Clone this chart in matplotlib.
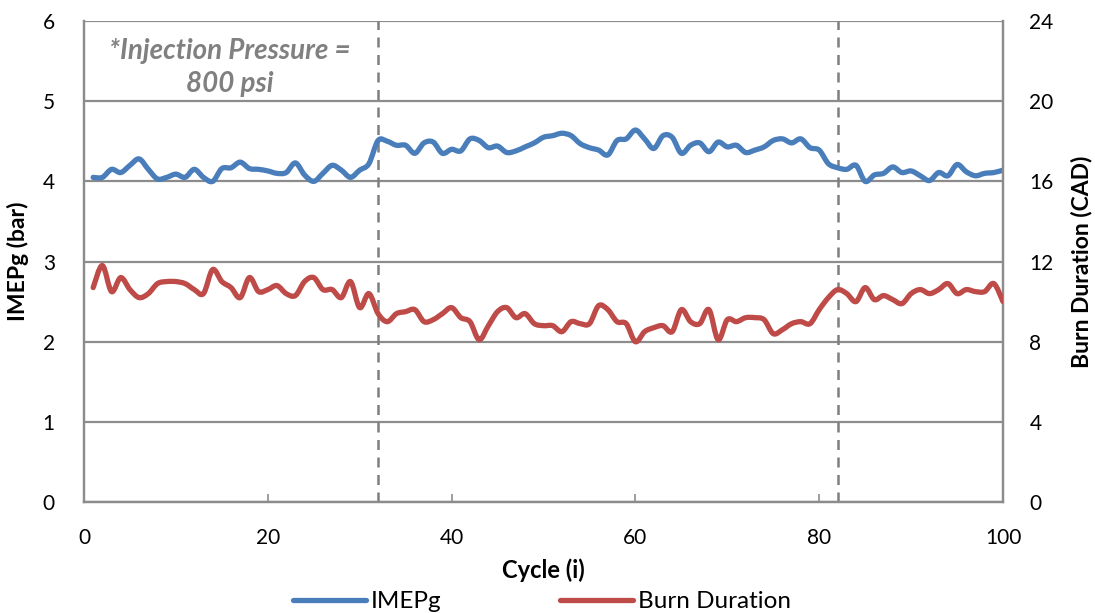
import matplotlib
matplotlib.use("Agg")
import matplotlib.pyplot as plt
from matplotlib.lines import Line2D
from matplotlib.path import Path
from matplotlib.patches import PathPatch

plt.rcParams['font.family'] = ['Lato', 'DejaVu Sans']

cycles = list(range(1, 101))

imepg = [
    4.05, 4.05, 4.15, 4.11, 4.20, 4.28, 4.15, 4.03, 4.05, 4.09,
    4.05, 4.15, 4.05, 4.00, 4.16, 4.17, 4.24, 4.16, 4.15, 4.13,
    4.10, 4.11, 4.23, 4.08, 4.00, 4.10, 4.20, 4.14, 4.05, 4.14,
    4.22, 4.51, 4.50, 4.45, 4.45, 4.35, 4.48, 4.49, 4.35, 4.40,
    4.38, 4.53, 4.51, 4.42, 4.44, 4.36, 4.38, 4.43, 4.48, 4.55,
    4.57, 4.60, 4.57, 4.47, 4.42, 4.39, 4.33, 4.51, 4.53, 4.64,
    4.53, 4.41, 4.57, 4.55, 4.35, 4.45, 4.48, 4.37, 4.49, 4.43,
    4.45, 4.36, 4.39, 4.43, 4.51, 4.53, 4.48, 4.53, 4.42, 4.39,
    4.22, 4.17, 4.15, 4.20, 4.00, 4.08, 4.10, 4.18, 4.11, 4.13,
    4.07, 4.01, 4.11, 4.07, 4.21, 4.12, 4.07, 4.10, 4.11, 4.14,
]

burn_duration = [
    10.7, 11.8, 10.5, 11.2, 10.6, 10.2, 10.4, 10.9, 11.0, 11.0,
    10.9, 10.6, 10.4, 11.6, 11.0, 10.7, 10.2, 11.2, 10.5, 10.6,
    10.8, 10.4, 10.3, 11.0, 11.2, 10.6, 10.6, 10.2, 11.0, 9.7,
    10.4, 9.4, 9.0, 9.4, 9.5, 9.6, 9.0, 9.1, 9.4, 9.7,
    9.2, 9.0, 8.1, 8.8, 9.5, 9.7, 9.2, 9.4, 8.9, 8.8,
    8.8, 8.5, 9.0, 8.9, 8.9, 9.8, 9.6, 9.0, 8.9, 8.0,
    8.5, 8.7, 8.8, 8.5, 9.6, 9.0, 8.9, 9.6, 8.1, 9.1,
    9.0, 9.2, 9.2, 9.1, 8.4, 8.6, 8.9, 9.0, 8.9, 9.6,
    10.2, 10.6, 10.4, 10.0, 10.7, 10.1, 10.3, 10.1, 9.9, 10.4,
    10.6, 10.4, 10.6, 10.9, 10.4, 10.6, 10.5, 10.5, 10.9, 10.0,
]

transition_cycles = [32, 82]
x_ticks = [0, 20, 40, 60, 80, 100]
left_ticks = [0, 1, 2, 3, 4, 5, 6]
right_ticks = [0, 4, 8, 12, 16, 20, 24]

blue = '#4A7EBB'
red = '#BE4B48'
axis_gray = '#8C8C8C'
text_color = '#000000'
line_w = 3.8


def smooth_path(xs, ys):
    """Cubic Bezier path through every point (Catmull-Rom style tangents)."""
    n = len(xs)
    verts = [(xs[0], ys[0])]
    codes = [Path.MOVETO]
    for i in range(n - 1):
        x0, y0 = (xs[i - 1], ys[i - 1]) if i > 0 else (xs[i], ys[i])
        x1, y1 = xs[i], ys[i]
        x2, y2 = xs[i + 1], ys[i + 1]
        x3, y3 = (xs[i + 2], ys[i + 2]) if i + 2 < n else (x2, y2)
        c1 = (x1 + (x2 - x0) / 6.0, y1 + (y2 - y0) / 6.0)
        c2 = (x2 - (x3 - x1) / 6.0, y2 - (y3 - y1) / 6.0)
        verts += [c1, c2, (x2, y2)]
        codes += [Path.CURVE4, Path.CURVE4, Path.CURVE4]
    return Path(verts, codes)


fig = plt.figure(figsize=(10.95, 6.13), dpi=100)
ax = fig.add_axes([0.0767, 0.181, 0.8393, 0.7847])
ax2 = ax.twinx()

ax.set_xlim(0, 100)
ax.set_ylim(0, 6)
ax2.set_ylim(0, 24)

# horizontal grid on the left scale
for v in left_ticks:
    ax.axhline(v, color=axis_gray, lw=1.6, zorder=1)

for c in transition_cycles:
    ax.axvline(c, color='#7F7F7F', lw=1.8, ls=(0, (4.0, 3.0)), zorder=2)

ax.add_patch(PathPatch(smooth_path(cycles, imepg), fill=False, edgecolor=blue,
                       lw=line_w, capstyle='round', joinstyle='round', zorder=3))
ax2.add_patch(PathPatch(smooth_path(cycles, burn_duration), fill=False,
                        edgecolor=red, lw=line_w, capstyle='round',
                        joinstyle='round', zorder=3))

for a in (ax, ax2):
    for s in a.spines.values():
        s.set_color(axis_gray)
        s.set_linewidth(1.6)
    a.spines['top'].set_visible(False)

ax.set_xticks(x_ticks)
ax.set_yticks(left_ticks)
ax2.set_yticks(right_ticks)
ax.tick_params(axis='x', direction='in', length=6, width=1.2, color=axis_gray,
               labelsize=15, pad=19, labelcolor=text_color)
ax.tick_params(axis='y', length=0, labelsize=15, pad=21, labelcolor=text_color)
ax2.tick_params(axis='y', length=0, labelsize=15, pad=19, labelcolor=text_color)

ax.set_xlabel('Cycle (i)', fontsize=17, fontweight='bold', labelpad=7)
ax.set_ylabel('IMEPg (bar)', fontsize=16.5, fontweight='bold', labelpad=10)
ax2.set_ylabel('Burn Duration (CAD)', fontsize=16.5, fontweight='bold',
               labelpad=12, rotation=90)

ax.text(15.9, 5.42, '*Injection Pressure =\n800 psi', color='#808080',
        fontsize=20, fontweight='bold', fontstyle='italic', ha='center',
        va='center', linespacing=1.3, zorder=4)

handles = [Line2D([], [], color=blue, lw=line_w, solid_capstyle='round'),
           Line2D([], [], color=red, lw=line_w, solid_capstyle='round')]
fig.legend(handles, ['IMEPg', 'Burn Duration'], loc='center',
           bbox_to_anchor=(0.495, 0.018), ncol=2, frameon=False, fontsize=17.5,
           handlelength=3.0, handletextpad=0.2, columnspacing=4.9)

fig.savefig('out.png', dpi=100)
